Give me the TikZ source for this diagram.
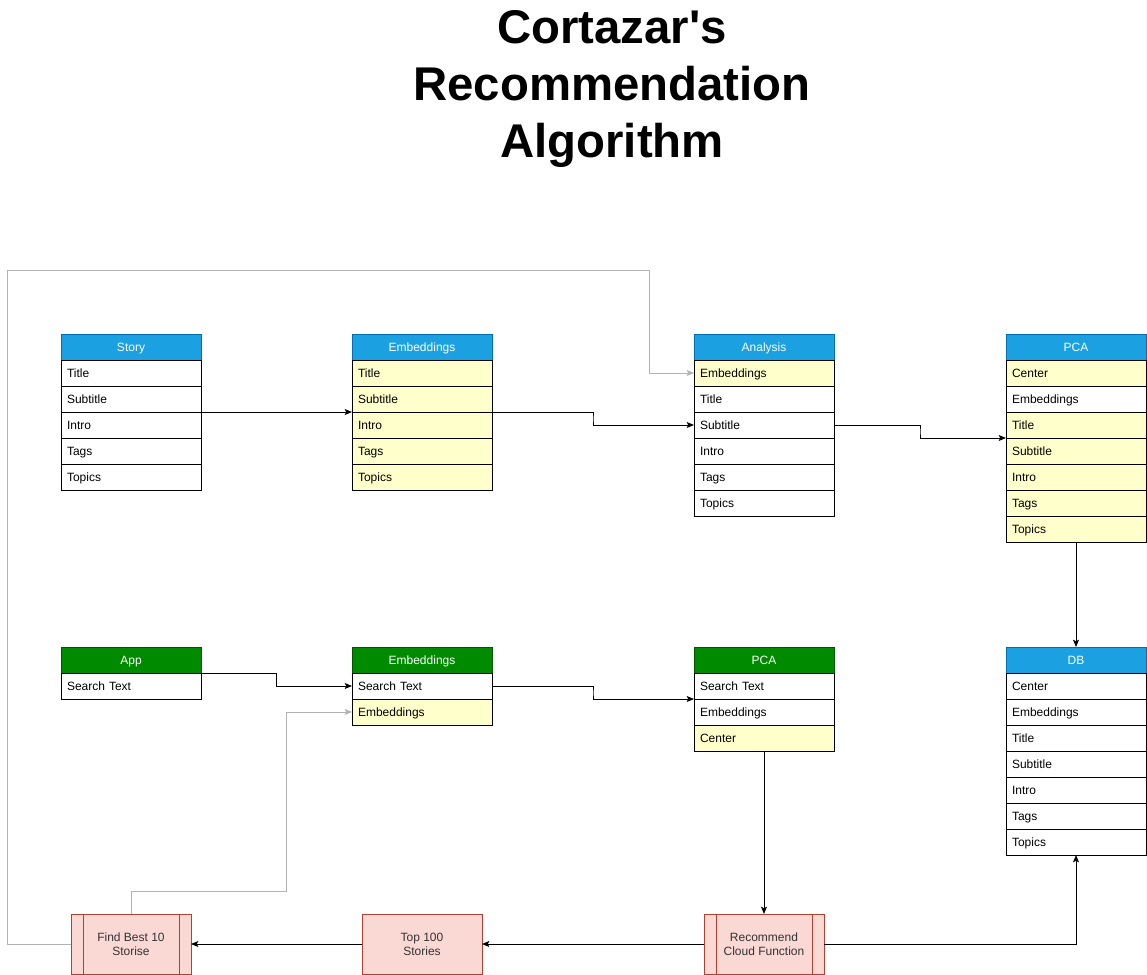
\documentclass[tikz,border=0pt]{standalone}
\usepackage{fontspec}
\setmainfont{Liberation Sans}
\usepackage{tikz}
\usetikzlibrary{arrows.meta,positioning,calc}

\definecolor{hdblue}{HTML}{1BA1E2}
\definecolor{hdbluedk}{HTML}{006EAF}
\definecolor{hdgreen}{HTML}{008A00}
\definecolor{hdgreendk}{HTML}{005700}
\definecolor{rowyellow}{HTML}{FFFFCC}
\definecolor{procfill}{HTML}{FAD9D5}
\definecolor{procline}{HTML}{AE4132}
\definecolor{proctext}{HTML}{333333}
\definecolor{backline}{HTML}{B3B3B3}

\tikzset{
	hdr/.style={draw, outer sep=0pt, inner sep=0pt, minimum width=105pt, minimum height=19.5pt, text height=7.7pt, text depth=0.8pt, text=white, font=\fontsize{9}{10}\selectfont},
	hdrblue/.style={hdr, fill=hdblue, draw=hdbluedk},
	hdrgreen/.style={hdr, fill=hdgreen, draw=hdgreendk},
	row/.style={draw=black, fill=white, outer sep=0pt, inner xsep=4.5pt, inner ysep=0pt, text width=96pt, text height=7.7pt, text depth=0.8pt, minimum height=19.5pt, align=left, font=\fontsize{9}{10}\selectfont},
	rowhl/.style={row, fill=rowyellow},
	proc/.style={draw=procline, fill=procfill, outer sep=0pt, minimum width=90pt, minimum height=45pt, align=center, text=proctext, font=\fontsize{9}{10.5}\selectfont},
	feedback/.style={draw=backline}
}

\begin{document}
\begin{tikzpicture}[x=0.75pt, y=-0.75pt, line width=0.75pt, ->, >={Stealth[length=5.5pt,width=4.5pt,inset=1.2pt]}]
	\useasboundingbox (0,0) rectangle (1147,975);

	% title
	\node[align=center, font=\bfseries\fontsize{35.5}{43}\selectfont] (title) at (612,89) {Cortazar\textquotesingle s\\Recommendation\\Algorithm};

	% story side
	\node[hdrblue, anchor=north west] (story) at (61,334) {Story};
	\node[row, below=0pt of story]          (story-title)    {Title};
	\node[row, below=0pt of story-title]    (story-subtitle) {Subtitle};
	\node[row, below=0pt of story-subtitle] (story-intro)    {Intro};
	\node[row, below=0pt of story-intro]    (story-tags)     {Tags};
	\node[row, below=0pt of story-tags]     (story-topics)   {Topics};

	\node[hdrblue, anchor=north west] (emb) at (352,334) {Embeddings};
	\node[rowhl, below=0pt of emb]          (emb-title)    {Title};
	\node[rowhl, below=0pt of emb-title]    (emb-subtitle) {Subtitle};
	\node[rowhl, below=0pt of emb-subtitle] (emb-intro)    {Intro};
	\node[rowhl, below=0pt of emb-intro]    (emb-tags)     {Tags};
	\node[rowhl, below=0pt of emb-tags]     (emb-topics)   {Topics};

	\node[hdrblue, anchor=north west] (ana) at (694,334) {Analysis};
	\node[rowhl, below=0pt of ana]          (ana-emb)      {Embeddings};
	\node[row, below=0pt of ana-emb]        (ana-title)    {Title};
	\node[row, below=0pt of ana-title]      (ana-subtitle) {Subtitle};
	\node[row, below=0pt of ana-subtitle]   (ana-intro)    {Intro};
	\node[row, below=0pt of ana-intro]      (ana-tags)     {Tags};
	\node[row, below=0pt of ana-tags]       (ana-topics)   {Topics};

	\node[hdrblue, anchor=north west] (pca) at (1006,334) {PCA};
	\node[rowhl, below=0pt of pca]          (pca-center)   {Center};
	\node[row, below=0pt of pca-center]     (pca-emb)      {Embeddings};
	\node[rowhl, below=0pt of pca-emb]      (pca-title)    {Title};
	\node[rowhl, below=0pt of pca-title]    (pca-subtitle) {Subtitle};
	\node[rowhl, below=0pt of pca-subtitle] (pca-intro)    {Intro};
	\node[rowhl, below=0pt of pca-intro]    (pca-tags)     {Tags};
	\node[rowhl, below=0pt of pca-tags]     (pca-topics)   {Topics};

	% query side
	\node[hdrgreen, anchor=north west] (app) at (61,647) {App};
	\node[row, below=0pt of app]            (app-text)     {Search Text};

	\node[hdrgreen, anchor=north west] (qemb) at (352,647) {Embeddings};
	\node[row, below=0pt of qemb]           (qemb-text)    {Search Text};
	\node[rowhl, below=0pt of qemb-text]    (qemb-emb)     {Embeddings};

	\node[hdrgreen, anchor=north west] (qpca) at (694,647) {PCA};
	\node[row, below=0pt of qpca]           (qpca-text)    {Search Text};
	\node[row, below=0pt of qpca-text]      (qpca-emb)     {Embeddings};
	\node[rowhl, below=0pt of qpca-emb]     (qpca-center)  {Center};

	\node[hdrblue, anchor=north west] (db) at (1006,647) {DB};
	\node[row, below=0pt of db]             (db-center)    {Center};
	\node[row, below=0pt of db-center]      (db-emb)       {Embeddings};
	\node[row, below=0pt of db-emb]         (db-title)     {Title};
	\node[row, below=0pt of db-title]       (db-subtitle)  {Subtitle};
	\node[row, below=0pt of db-subtitle]    (db-intro)     {Intro};
	\node[row, below=0pt of db-intro]       (db-tags)      {Tags};
	\node[row, below=0pt of db-tags]        (db-topics)    {Topics};

	% functions
	\node[proc, anchor=north west] (best)      at (71,914)  {Find Best 10\\Storise};
	\node[proc, anchor=north west] (top)       at (362,914) {Top 100\\Stories};
	\node[proc, anchor=north west] (recommend) at (704,914) {Recommend\\Cloud Function};
	\path[-, draw=procline] ([xshift=9pt]best.north west) edge ([xshift=9pt]best.south west)
		([xshift=-9pt]best.north east) edge ([xshift=-9pt]best.south east)
		([xshift=9pt]recommend.north west) edge ([xshift=9pt]recommend.south west)
		([xshift=-9pt]recommend.north east) edge ([xshift=-9pt]recommend.south east);

	% flow
	\draw (story-subtitle.south east) -- (emb-subtitle.south west);
	\draw (emb-subtitle.south east) -| ($(emb-subtitle.south east)!.5!(ana-subtitle.west)$) |- (ana-subtitle.west);
	\draw (ana-subtitle.east) -| ($(ana-subtitle.east)!.5!(pca-title.south west)$) |- (pca-title.south west);
	\draw (pca-topics.south) -- (db.north);
	\draw (app.south east) -| ($(app.south east)!.5!(qemb-text.west)$) |- (qemb-text.west);
	\draw (qemb-text.east) -| ($(qemb-text.east)!.5!(qpca-text.south west)$) |- (qpca-text.south west);
	\draw (qpca-center.south) -- (recommend.north);
	\draw (recommend.east) -| (db-topics.south);
	\draw (recommend.west) -- (top.east);
	\draw (top.west) -- (best.east);
	\draw[feedback] (best.north) |- (286,891) |- (qemb-emb.west);
	\draw[feedback] (best.west) -| (7,270) -- (649,270) |- (ana-emb.west);
\end{tikzpicture}
\end{document}
